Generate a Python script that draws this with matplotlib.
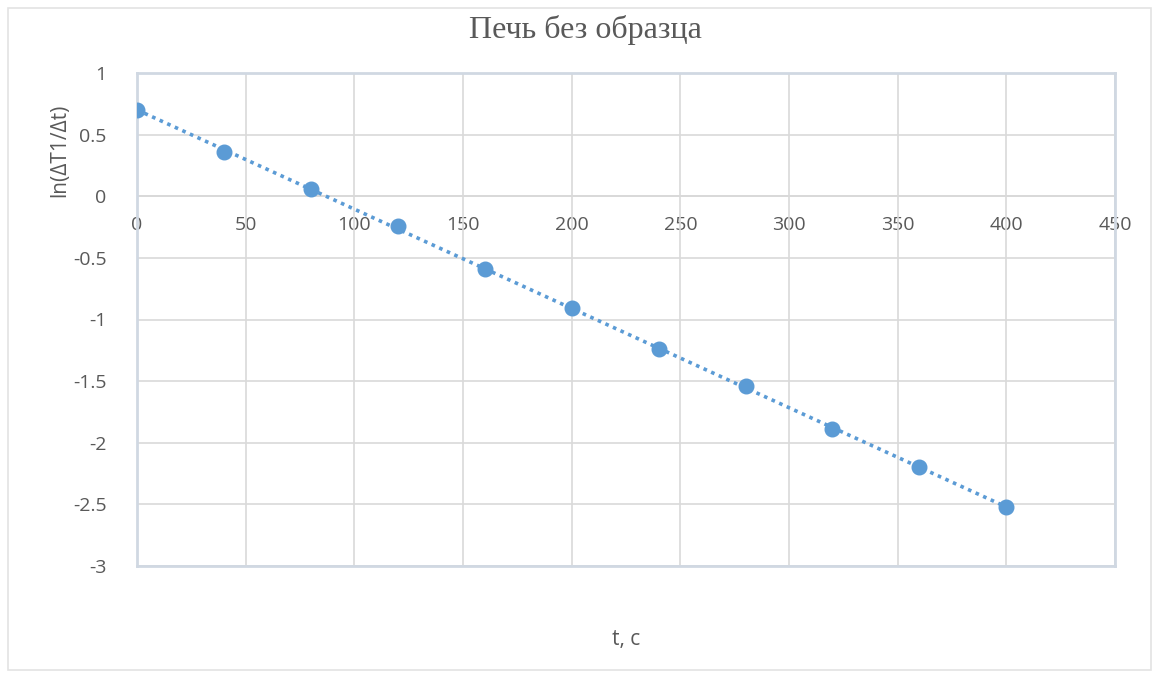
import numpy as np
import matplotlib
matplotlib.use("Agg")
import matplotlib.pyplot as plt
from matplotlib.patches import Rectangle

# данные
t_sec = [0, 40, 80, 120, 160, 200, 240, 280, 320, 360, 400]
ln_vals = [0.70, 0.36, 0.06, -0.24, -0.59, -0.91, -1.24, -1.54, -1.89, -2.20, -2.52]

x_ticks = [0, 50, 100, 150, 200, 250, 300, 350, 400, 450]
y_ticks = [1, 0.5, 0, -0.5, -1, -1.5, -2, -2.5, -3]

BLUE = "#5b9bd5"
TXT = "#595959"
GRID = "#d9d9d9"
FONT = ["Open Sans", "DejaVu Sans"]

plt.rcParams["font.family"] = FONT

fig = plt.figure(figsize=(11.59, 6.75), dpi=100)
fig.patch.set_facecolor("white")
fig.add_artist(Rectangle((8 / 1159, 5 / 675), 1 - 16 / 1159, 1 - 13 / 675,
                         transform=fig.transFigure, fill=False,
                         edgecolor="#e3e3e3", lw=1.2))

ax = fig.add_axes([137 / 1159, 1 - 566 / 675, (1115 - 137) / 1159, (566 - 73) / 675])
ax.set_xlim(0, 450)
ax.set_ylim(-3, 1)

ax.set_xticks(x_ticks)
ax.set_yticks(y_ticks)
ax.set_yticklabels([f"{v:g}" for v in y_ticks])
ax.tick_params(axis="x", labelbottom=False, length=0)
ax.tick_params(axis="y", length=0, pad=22, labelsize=14, labelcolor=TXT)
ax.grid(True, color=GRID, lw=1.2)
ax.set_axisbelow(True)
for sp in ax.spines.values():
    sp.set_color("#d0d8e2")
    sp.set_linewidth(2)

# ось x проходит через y = 0
sec = ax.secondary_xaxis(0.75)
sec.set_xticks(x_ticks)
sec.set_xticklabels([str(v) for v in x_ticks])
sec.xaxis.set_ticks_position("bottom")
sec.xaxis.set_label_position("bottom")
sec.tick_params(length=0, pad=14, labelsize=14, labelcolor=TXT,
                labelbottom=True, labeltop=False)
for name, sp in sec.spines.items():
    sp.set_visible(False)
ax.axhline(0, color=GRID, lw=1.4, zorder=1)

# линия тренда
k, b = np.polyfit(t_sec, ln_vals, 1)
xs = np.array([min(t_sec), max(t_sec)])
ax.plot(xs, k * xs + b, color=BLUE, lw=2.6, ls=(0, (1, 1.3)), zorder=2)
ax.plot(t_sec, ln_vals, "o", color=BLUE, ms=10.5, zorder=3)

fig.text(585 / 1159, 1 - 30 / 675, "Печь без образца",
         ha="center", va="center", fontsize=23, color=TXT,
         family=["Liberation Serif", "DejaVu Serif"])
ax.text(0.5, -0.15, "t, c", transform=ax.transAxes, ha="center", va="center",
        fontsize=15, color=TXT)
fig.text(60 / 1159, 1 - 150 / 675, "ln(ΔT1/Δt)", rotation=90,
         ha="center", va="center", fontsize=15, color=TXT)

fig.savefig("out.png", dpi=100, facecolor="white")
